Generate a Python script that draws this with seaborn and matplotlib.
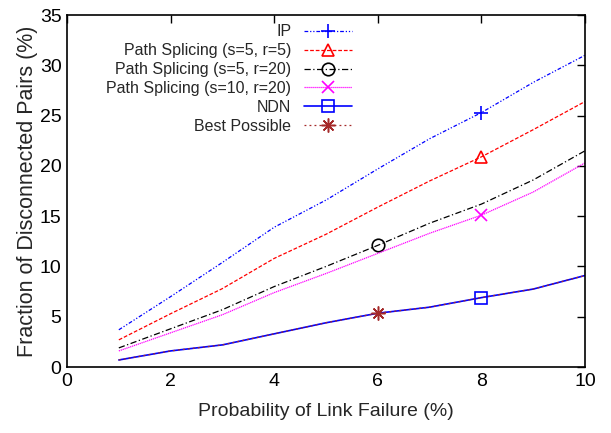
import matplotlib
matplotlib.use("Agg")
import matplotlib.pyplot as plt
import seaborn as sns
import pandas as pd

# Link failure probability (%)
failure_prob = [1, 2, 3, 4, 5, 6, 7, 8, 9, 10]

# Fraction of disconnected pairs (%) per routing scheme
ip = [3.7, 7.0, 10.4, 13.9, 16.6, 19.7, 22.7, 25.3, 28.3, 31.0]
splice_s5_r5 = [2.7, 5.3, 7.8, 10.8, 13.2, 15.9, 18.5, 20.9, 23.6, 26.4]
splice_s5_r20 = [1.9, 3.8, 5.7, 8.0, 10.0, 12.1, 14.3, 16.2, 18.6, 21.5]
splice_s10_r20 = [1.6, 3.4, 5.2, 7.4, 9.3, 11.3, 13.3, 15.1, 17.4, 20.3]
ndn = [0.7, 1.6, 2.2, 3.3, 4.4, 5.35, 5.95, 6.9, 7.75, 9.1]
best_possible = [0.7, 1.6, 2.2, 3.3, 4.4, 5.35, 5.95, 6.9, 7.75, 9.1]

series_labels = [
    "IP",
    "Path Splicing (s=5, r=5)",
    "Path Splicing (s=5, r=20)",
    "Path Splicing (s=10, r=20)",
    "NDN",
    "Best Possible",
]
x_ticks = [0, 2, 4, 6, 8, 10]
y_ticks = [0, 5, 10, 15, 20, 25, 30, 35]

sns.set_style("white")
plt.rcParams["font.family"] = ["Liberation Sans", "DejaVu Sans"]

fig = plt.figure(figsize=(6.11, 4.33), dpi=100)
ax = fig.add_axes([0.1097, 0.1524, 0.8478, 0.8129])

styles = [
    dict(data=ip, color="#0000ff", ls=(0, (3, 1.5, 1, 1.5, 1, 1.5)), lw=0.9,
         marker="+", ms=10, mew=1.2, markevery=[7]),
    dict(data=splice_s5_r5, color="#ff0000", ls=(0, (3, 1.5)), lw=0.9,
         marker="^", ms=9, mew=1.2, markevery=[7]),
    dict(data=splice_s5_r20, color="#000000", ls=(0, (5, 2, 1, 2)), lw=0.9,
         marker="o", ms=9, mew=1.2, markevery=[5]),
    dict(data=splice_s10_r20, color="#ff00ff", ls=(0, (1, 0.6)), lw=0.9,
         marker="x", ms=9, mew=1.2, markevery=[7]),
    dict(data=ndn, color="#0000ff", ls="-", lw=1.2,
         marker="s", ms=9, mew=1.2, markevery=[7]),
    dict(data=best_possible, color="#a52a2a", ls=(0, (1.5, 2.5)), lw=0.9,
         marker=(8, 2, 0), ms=10, mew=1.1, markevery=[5]),
]

for label, st in zip(series_labels, styles):
    df = pd.DataFrame({"p": failure_prob, "v": st["data"]})
    sns.lineplot(data=df, x="p", y="v", ax=ax, label=label, color=st["color"],
                 linestyle=st["ls"], linewidth=st["lw"], marker=st["marker"],
                 markersize=st["ms"], markeredgewidth=st["mew"],
                 markerfacecolor="none", markeredgecolor=st["color"],
                 markevery=st["markevery"])

ax.set_xlim(0, 10)
ax.set_ylim(0, 35)
ax.set_xticks(x_ticks)
ax.set_yticks(y_ticks)
ax.tick_params(direction="in", length=6, width=1, top=True, right=True,
               labelsize=14, pad=4, colors="black")
for sp in ax.spines.values():
    sp.set_color("black")
    sp.set_linewidth(1.2)

ax.set_xlabel("Probability of Link Failure (%)", fontsize=14, labelpad=10)
ax.set_ylabel("Fraction of Disconnected Pairs (%)", fontsize=15.5, labelpad=1)

leg = ax.legend(loc="upper right", bbox_to_anchor=(0.572, 1.005), markerfirst=False,
                frameon=False, fontsize=11.5, handlelength=3.0, handletextpad=0.8,
                labelspacing=0.24, borderpad=0.2)

fig.savefig("out.png", dpi=100)
